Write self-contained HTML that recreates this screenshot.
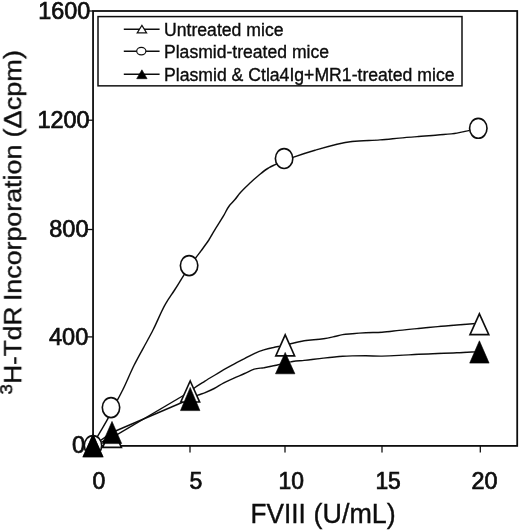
<!DOCTYPE html>
<html lang="en">
<head>
<meta charset="utf-8">
<title>3H-TdR Incorporation vs FVIII</title>
<style>
  html, body { margin: 0; padding: 0; background: #ffffff; }
  body { width: 520px; height: 530px; overflow: hidden; }
  svg { display: block; }
  text { font-family: "Liberation Sans", Arial, Helvetica, sans-serif; fill: #0a0a0a; stroke: #0a0a0a; stroke-width: 0.35; }
  .tl text { stroke-width: 0.7; }
  .ax { stroke: #111; stroke-width: 1.8; fill: none; }
  .tk { stroke: #111; stroke-width: 1.3; fill: none; }
  .ln { stroke: #111; stroke-width: 1.45; fill: none; stroke-linejoin: round; }
  .open { fill: #fff; stroke: #111; stroke-width: 1.65; stroke-linejoin: miter; }
  .solid { fill: #050505; stroke: #050505; stroke-width: 0.6; stroke-linejoin: miter; }
</style>
</head>
<body>
<svg width="520" height="530" viewBox="0 0 520 530">
  <defs><filter id="soft" x="0" y="0" width="520" height="530" filterUnits="userSpaceOnUse"><feGaussianBlur stdDeviation="0.36"/></filter></defs>
  <rect x="0" y="0" width="520" height="530" fill="#ffffff"/>
  <g filter="url(#soft)">

  <!-- plot frame -->
  <rect class="ax" x="93.05" y="11" width="424.15" height="434.9"/>

  <!-- y ticks -->
  <g class="tk">
    <line x1="87.3" y1="11" x2="93" y2="11"/>
    <line x1="87.3" y1="120.2" x2="93" y2="120.2"/>
    <line x1="87.3" y1="229.5" x2="93" y2="229.5"/>
    <line x1="87.3" y1="336.9" x2="93" y2="336.9"/>
    <line x1="87.3" y1="445.9" x2="93" y2="445.9"/>
  </g>
  <!-- x ticks -->
  <g class="tk">
    <line x1="93" y1="445.9" x2="93" y2="452.4"/>
    <line x1="190" y1="445.9" x2="190" y2="452.4"/>
    <line x1="285" y1="445.9" x2="285" y2="452.4"/>
    <line x1="382" y1="445.9" x2="382" y2="452.4"/>
    <line x1="480.3" y1="445.9" x2="480.3" y2="452.4"/>
  </g>

  <!-- y tick labels -->
  <g font-size="23.1" text-anchor="end" class="tl">
    <text x="90.2" y="19.3" textLength="52" lengthAdjust="spacingAndGlyphs">1600</text>
    <text x="89.5" y="127.6" textLength="52" lengthAdjust="spacingAndGlyphs">1200</text>
    <text x="88.5" y="237" textLength="39.2" lengthAdjust="spacingAndGlyphs">800</text>
    <text x="88.2" y="344.7" textLength="39.2" lengthAdjust="spacingAndGlyphs">400</text>
    <text x="85.2" y="453.1" textLength="13.2" lengthAdjust="spacingAndGlyphs">0</text>
  </g>

  <!-- x tick labels -->
  <g font-size="23.1" text-anchor="start" class="tl">
    <text x="92.4" y="488.9" textLength="12.8" lengthAdjust="spacingAndGlyphs">0</text>
    <text x="189.4" y="488.9" textLength="12.8" lengthAdjust="spacingAndGlyphs">5</text>
    <text x="278.6" y="488.9" textLength="25.4" lengthAdjust="spacingAndGlyphs">10</text>
    <text x="375.4" y="488.9" textLength="25.4" lengthAdjust="spacingAndGlyphs">15</text>
    <text x="471.4" y="488.9" textLength="26" lengthAdjust="spacingAndGlyphs">20</text>
  </g>

  <!-- x axis title -->
  <g font-size="27.2">
    <text x="250.6" y="522.8" textLength="55.2" lengthAdjust="spacingAndGlyphs">FVIII</text>
    <text x="313.6" y="522.8" textLength="82.2" lengthAdjust="spacingAndGlyphs">(U/mL)</text>
  </g>

  <!-- y axis title -->
  <g transform="translate(21.2 395) rotate(-90)" font-size="24.6">
    <text x="0.4" y="-8.6" font-size="17" textLength="10.4" lengthAdjust="spacingAndGlyphs">3</text>
    <text x="11.2" y="0" textLength="77.2" lengthAdjust="spacingAndGlyphs">H-TdR</text>
    <text x="93.9" y="0" textLength="156.4" lengthAdjust="spacingAndGlyphs">Incorporation</text>
    <text x="257.6" y="0" textLength="87.4" lengthAdjust="spacingAndGlyphs">(Δcpm)</text>
  </g>

  <!-- series lines -->
  <path class="ln" d="M92.5 445.6 C94.3 442.3 96.1 439.0 98.0 435.7 C101.3 429.9 104.9 424.3 108.0 418.4 C109.9 414.8 111.6 411.1 113.5 407.5 C116.5 401.6 119.8 395.9 122.7 390.0 C126.8 381.8 130.1 373.2 134.2 365.0 C138.4 356.5 143.2 348.4 147.7 340.0 C149.5 336.7 151.3 333.4 153.0 330.0 C157.6 321.2 160.9 311.6 166.0 303.1 C168.7 298.6 171.8 294.4 174.6 290.0 C177.9 284.9 180.9 279.7 184.2 274.6 C185.8 272.1 187.4 269.5 189.1 267.0 C191.2 263.9 193.5 260.8 195.8 257.8 C197.7 255.2 199.8 252.6 201.7 250.0 C204.1 246.7 206.5 243.4 208.8 240.0 C210.7 237.0 212.4 233.9 214.2 230.8 C217.3 225.6 220.7 220.6 223.8 215.4 C225.7 212.1 227.2 208.5 229.5 205.5 C231.2 203.2 233.5 201.3 235.4 199.0 C236.9 197.2 238.1 195.3 239.6 193.5 C242.5 190.0 245.9 186.9 249.2 183.8 C252.3 180.8 255.5 177.9 258.8 175.2 C261.9 172.7 265.0 170.0 268.5 168.0 C270.6 166.7 272.9 165.7 275.2 164.6 C278.1 163.2 281.1 161.8 284.1 160.6 C287.3 159.3 290.5 158.2 293.7 157.1 C300.7 154.6 307.8 152.3 315.0 150.2 C327.2 146.7 339.5 143.1 352.0 141.5 C361.2 140.3 370.7 140.6 380.0 139.9 C386.4 139.4 392.8 138.7 399.2 138.1 C405.6 137.5 412.1 137.0 418.5 136.5 C424.9 136.0 431.3 135.6 437.7 135.0 C444.1 134.4 450.6 134.2 456.9 133.1 C461.1 132.4 465.2 131.3 469.4 130.4 C472.4 129.7 475.3 129.0 478.3 128.3"/>
  <path class="ln" d="M93 445.6 L112 437.6 L190.2 391.5 C191.8 390.2 193.3 388.8 195.0 387.5 C198.0 385.2 201.4 383.3 204.6 381.3 C207.8 379.3 211.0 377.4 214.2 375.5 C217.4 373.6 220.6 371.6 223.8 369.7 C227.2 367.8 230.6 365.9 234.0 364.1 C237.5 362.2 241.1 360.4 244.6 358.6 C247.8 356.9 250.9 355.1 254.2 353.6 C257.3 352.2 260.5 350.9 263.8 349.9 C267.0 348.9 270.2 348.2 273.5 347.5 C275.1 347.1 276.7 346.8 278.3 346.5 C280.6 346.1 282.9 345.8 285.2 345.3 C287.1 344.9 288.9 344.2 290.8 343.7 C295.2 342.5 299.7 341.6 304.2 340.8 C310.6 339.7 317.1 339.9 323.5 338.8 C326.7 338.3 329.9 337.6 333.1 336.9 C336.3 336.2 339.5 335.1 342.7 334.6 C345.9 334.1 349.1 334.0 352.3 333.7 C356.8 333.3 361.3 333.0 365.8 332.8 C371.2 332.5 376.6 332.6 382.0 332.2 C387.7 331.8 393.5 331.0 399.2 330.4 C405.6 329.7 412.1 329.1 418.5 328.5 C424.9 327.9 431.3 327.2 437.7 326.6 C444.1 326.0 450.5 325.5 456.9 325.0 C464.4 324.4 471.9 323.8 479.4 323.2"/>
  <path class="ln" d="M93 445.6 L112 432.5 L190.2 399 C192.8 397.7 195.3 396.3 197.9 395.2 C200.1 394.3 202.4 393.7 204.6 392.8 C207.9 391.5 211.1 390.1 214.2 388.5 C217.5 386.8 220.5 384.6 223.8 382.9 C227.1 381.2 230.6 379.6 234.0 378.1 C237.5 376.5 241.1 375.1 244.6 373.5 C247.8 372.1 250.9 370.1 254.2 369.1 C257.3 368.2 260.6 368.2 263.8 367.7 C267.0 367.1 270.3 366.5 273.5 365.8 C275.1 365.5 276.7 365.2 278.3 364.8 C280.6 364.3 282.9 363.5 285.2 363.0 C287.7 362.4 290.2 361.9 292.7 361.5 C296.5 360.9 300.4 360.8 304.2 360.4 C310.6 359.7 317.1 358.8 323.5 358.1 C329.9 357.4 336.3 356.7 342.7 356.3 C345.9 356.1 349.1 356.0 352.3 355.9 C356.8 355.8 361.3 355.8 365.8 355.8 C371.2 355.8 376.6 356.2 382.0 356.1 C387.7 356.0 393.5 355.7 399.2 355.4 C405.6 355.1 412.1 354.6 418.5 354.3 C424.9 354.0 431.3 353.8 437.7 353.5 C444.1 353.3 450.5 353.1 456.9 352.8 C464.4 352.5 471.9 352.0 479.4 351.6"/>

  <!-- markers: circles (plasmid) -->
  <g class="open">
    <ellipse cx="93" cy="445.6" rx="8.7" ry="9.95"/>
    <ellipse cx="111" cy="407.6" rx="8.7" ry="9.95"/>
    <ellipse cx="189.1" cy="265.6" rx="8.7" ry="9.95"/>
    <ellipse cx="284.1" cy="158.5" rx="8.7" ry="9.95"/>
    <ellipse cx="478.3" cy="128.3" rx="8.7" ry="9.95"/>
  </g>
  <!-- markers: open triangles (untreated) -->
  <g class="open">
    <path d="M93 435.3 L102.4 456.3 L83.6 456.3 Z"/>
    <path d="M112 426.3 L121.4 447.4 L102.6 447.4 Z"/>
    <path d="M190.2 381 L199.6 402 L180.8 402 Z"/>
    <path d="M285.2 334.8 L294.6 355.8 L275.8 355.8 Z"/>
    <path d="M479.4 313.8 L488.8 334.6 L470 334.6 Z"/>
  </g>
  <!-- markers: filled triangles (plasmid + Ctla4Ig + MR1) -->
  <g class="solid">
    <path d="M93 434.6 L102.7 456.8 L83.3 456.8 Z"/>
    <path d="M112 421.4 L121.7 443.6 L102.3 443.6 Z"/>
    <path d="M190.2 387.4 L199.9 410.6 L180.5 410.6 Z"/>
    <path d="M285.2 352.4 L294.9 373.8 L275.5 373.8 Z"/>
    <path d="M479.4 340.8 L489.1 363.1 L469.7 363.1 Z"/>
  </g>

  <!-- legend -->
  <rect class="ax" x="98" y="16.6" width="364" height="69.25" style="fill:#fff;stroke-width:1.5"/>
  <g class="ln">
    <line x1="123.8" y1="29.3" x2="159.6" y2="29.3"/>
    <line x1="123.8" y1="51.2" x2="159.6" y2="51.2"/>
    <line x1="123.8" y1="74.2" x2="159.6" y2="74.2"/>
  </g>
  <path class="open" style="stroke-width:1.2" d="M141.9 25.4 L146.6 32.9 L137.2 32.9 Z"/>
  <ellipse class="open" style="stroke-width:1.2" cx="141.3" cy="51.1" rx="4.6" ry="3.8"/>
  <path class="solid" d="M141.9 69.8 L147.1 78.7 L136.7 78.7 Z"/>
  <g font-size="18.3">
    <text x="164" y="35.7" textLength="119.5" lengthAdjust="spacingAndGlyphs">Untreated mice</text>
    <text x="164" y="57.9" textLength="165" lengthAdjust="spacingAndGlyphs">Plasmid-treated mice</text>
    <text x="164" y="80.8" textLength="290.5" lengthAdjust="spacingAndGlyphs">Plasmid &amp; Ctla4Ig+MR1-treated mice</text>
  </g>
  </g>
</svg>
</body>
</html>
